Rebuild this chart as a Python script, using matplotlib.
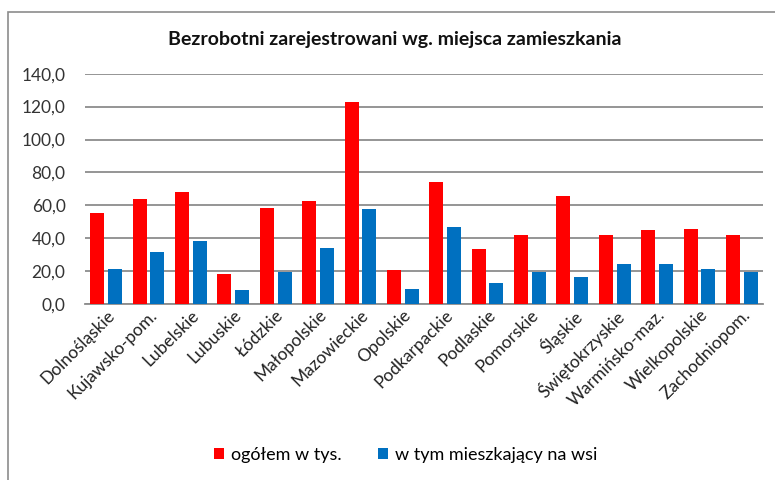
import matplotlib
matplotlib.use("Agg")
import matplotlib.pyplot as plt
import numpy as np
from matplotlib.patches import Rectangle

categories = ["Dolnośląskie", "Kujawsko-pom.", "Lubelskie", "Lubuskie", "Łódzkie",
              "Małopolskie", "Mazowieckie", "Opolskie", "Podkarpackie", "Podlaskie",
              "Pomorskie", "Śląskie", "Świętokrzyskie", "Warmińsko-maz.",
              "Wielkopolskie", "Zachodniopom."]
ogolem = [55.6, 63.7, 68.2, 18.2, 58.3, 62.7, 122.6, 20.6, 74.4, 33.2, 42.1, 65.5, 42.1, 44.7, 45.7, 42.1]
wies = [21.4, 31.4, 38.4, 8.5, 19.6, 34.0, 57.5, 9.1, 46.7, 12.7, 19.4, 16.4, 24.3, 24.3, 21.4, 19.2]
yticks = [0, 20, 40, 60, 80, 100, 120, 140]
ytick_labels = ["0,0", "20,0", "40,0", "60,0", "80,0", "100,0", "120,0", "140,0"]

plt.rcParams['font.family'] = ['Lato', 'DejaVu Sans']

fig = plt.figure(figsize=(7.75, 4.8), dpi=100)
fig.patches.append(Rectangle((8/775, -0.1), 1.2, 1 - 12/480 + 0.1, transform=fig.transFigure,
                             fill=False, edgecolor='#8c8c8c', linewidth=1.2))
ax = fig.add_axes([85/775, 1 - 304/480, 678/775, (304 - 73.7)/480])

x = np.arange(len(categories))
w = 0.33
ax.bar(x - 0.21, ogolem, w, color='#FF0000', label='ogółem w tys.', zorder=3)
ax.bar(x + 0.21, wies, w, color='#0070C0', label='w tym mieszkający na wsi', zorder=3)

ax.set_xlim(-0.5, len(categories) - 0.5)
ax.set_ylim(0, 140)
ax.set_yticks(yticks)
ax.set_yticklabels(ytick_labels, fontsize=12.5, color='#333333')
ax.yaxis.grid(True, color='#8c8c8c', linewidth=1.3, zorder=0)
ax.set_xticks(x)
ax.set_xticklabels(categories, rotation=45, ha='right', rotation_mode='anchor',
                   fontsize=12.5, color='#222222')
ax.tick_params(axis='both', length=0)
ax.tick_params(axis='y', pad=14)
ax.tick_params(axis='x', pad=2)
for s in ['top', 'right', 'left']:
    ax.spines[s].set_visible(False)
ax.spines['bottom'].set_color('#8c8c8c')
ax.spines['bottom'].set_linewidth(1.3)

fig.text(395/775, 1 - 40/480, "Bezrobotni zarejestrowani wg. miejsca zamieszkania",
         ha='center', va='center', fontsize=14, fontweight='bold', color='#111111')

fig.legend(loc='center', bbox_to_anchor=(406/775, 1 - 455/480), ncol=2, frameon=False,
           fontsize=13, handlelength=0.55, handleheight=0.55, handletextpad=0.4,
           columnspacing=2.0)

fig.savefig("out.png", dpi=100)
